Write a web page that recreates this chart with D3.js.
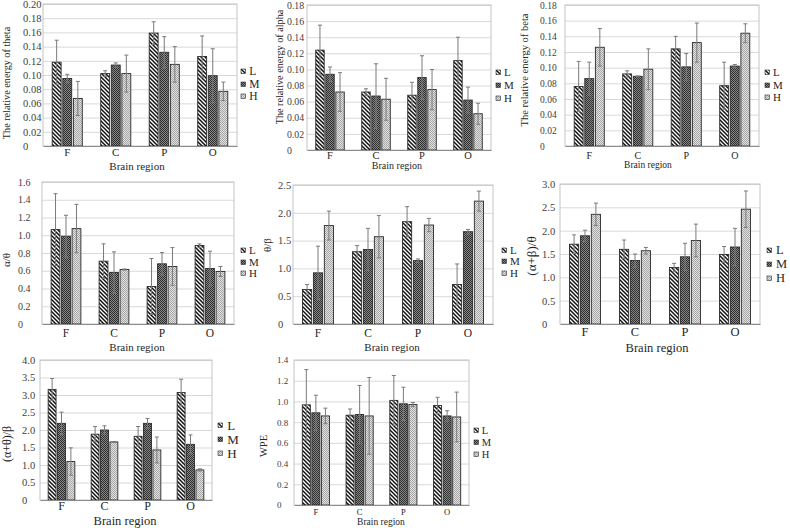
<!DOCTYPE html>
<html>
<head>
<meta charset="utf-8">
<script src="https://cdn.jsdelivr.net/npm/d3@7"></script>
<style>
  body { margin: 0; background: #fff; }
  svg { display: block; }
  text { font-family: "Liberation Serif", "Times New Roman", serif; }
</style>
</head>
<body>
<svg id="chart" width="790" height="528"></svg>
<script>
const regions = ["F", "C", "P", "O"];
const levels = ["L", "M", "H"];

// rows = L, M, H ; columns = F, C, P, O
const thetaMean = [[0.118, 0.102, 0.159, 0.126], [0.095, 0.114, 0.132, 0.099], [0.067, 0.102, 0.115, 0.077]];
const thetaErr = [[0.031, 0.004, 0.016, 0.029], [0.006, 0.003, 0.022, 0.038], [0.024, 0.026, 0.025, 0.013]];

const alphaMean = [[0.124, 0.072, 0.068, 0.111], [0.094, 0.067, 0.090, 0.062], [0.072, 0.063, 0.075, 0.045]];
const alphaErr = [[0.031, 0.004, 0.016, 0.029], [0.009, 0.040, 0.027, 0.016], [0.024, 0.026, 0.025, 0.013]];

const betaMean = [[0.076, 0.092, 0.124, 0.077], [0.086, 0.089, 0.101, 0.102], [0.126, 0.098, 0.132, 0.144]];
const betaErr = [[0.032, 0.004, 0.016, 0.030], [0.021, 0.0005, 0.017, 0.002], [0.024, 0.026, 0.025, 0.012]];

const atMean = [[1.064, 0.708, 0.423, 0.884], [0.989, 0.580, 0.678, 0.625], [1.075, 0.614, 0.648, 0.592]];
const atErr = [[0.404, 0.195, 0.315, 0.019], [0.236, 0.233, 0.127, 0.195], [0.273, 0.006, 0.213, 0.056]];

const tbMean = [[0.62, 1.30, 1.84, 0.71], [0.92, 1.34, 1.14, 1.66], [1.77, 1.57, 1.78, 2.21]];
const tbErr = [[0.09, 0.11, 0.27, 0.37], [0.48, 0.38, 0.03, 0.04], [0.26, 0.38, 0.12, 0.18]];

const abtMean = [[1.71, 1.60, 1.21, 1.49], [1.89, 1.36, 1.44, 1.65], [2.35, 1.57, 1.79, 2.46]];
const abtErr = [[0.20, 0.20, 0.09, 0.17], [0.12, 0.14, 0.29, 0.40], [0.24, 0.07, 0.35, 0.39]];

const atbMean = [[3.16, 1.88, 1.82, 3.07], [2.19, 2.00, 2.19, 1.59], [1.10, 1.66, 1.43, 0.86]];
const atbErr = [[0.31, 0.22, 0.28, 0.38], [0.32, 0.12, 0.14, 0.27], [0.39, 0.01, 0.37, 0.03]];

const wpeMean = [[0.967, 0.867, 1.010, 0.960], [0.890, 0.874, 0.977, 0.860], [0.860, 0.860, 0.970, 0.850]];
const wpeErr = [[0.34, 0.06, 0.24, 0.08], [0.17, 0.28, 0.16, 0.05], [0.075, 0.37, 0.02, 0.24]];

const ticks020 = [0, 0.02, 0.04, 0.06, 0.08, 0.10, 0.12, 0.14, 0.16, 0.18, 0.20];
const ticks018 = [0, 0.02, 0.04, 0.06, 0.08, 0.10, 0.12, 0.14, 0.16, 0.18];
const ticks16 = [0, 0.2, 0.4, 0.6, 0.8, 1.0, 1.2, 1.4, 1.6];
const ticks25 = [0, 0.5, 1.0, 1.5, 2.0, 2.5];
const ticks30 = [0, 0.5, 1.0, 1.5, 2.0, 2.5, 3.0];
const ticks40 = [0, 0.5, 1.0, 1.5, 2.0, 2.5, 3.0, 3.5, 4.0];
const ticks14 = [0, 0.2, 0.4, 0.6, 0.8, 1.0, 1.2, 1.4];

const serif = '"Liberation Serif", "Times New Roman", serif';
const svg = d3.select("#chart");

// fill patterns for the three groups
const defs = svg.append("defs");
const pL = defs.append("pattern").attr("id", "patL").attr("patternUnits", "userSpaceOnUse")
  .attr("width", 4).attr("height", 4);
pL.append("rect").attr("width", 4).attr("height", 4).attr("fill", "#fff");
pL.append("path").attr("d", "M-1,-1 L5,5 M-1,3 L1,5 M3,-1 L5,1")
  .attr("stroke", "#111").attr("stroke-width", 1.5);

const pM = defs.append("pattern").attr("id", "patM").attr("patternUnits", "userSpaceOnUse")
  .attr("width", 2).attr("height", 2);
pM.append("rect").attr("width", 2).attr("height", 2).attr("fill", "#888");
pM.append("rect").attr("width", 1).attr("height", 1).attr("fill", "#2e2e2e");
pM.append("rect").attr("x", 1).attr("y", 1).attr("width", 1).attr("height", 1).attr("fill", "#2e2e2e");

const pH = defs.append("pattern").attr("id", "patH").attr("patternUnits", "userSpaceOnUse")
  .attr("width", 2).attr("height", 2);
pH.append("rect").attr("width", 2).attr("height", 2).attr("fill", "#e2e2e2");
pH.append("rect").attr("width", 1).attr("height", 1).attr("fill", "#a6a6a6");
pH.append("rect").attr("x", 1).attr("y", 1).attr("width", 1).attr("height", 1).attr("fill", "#a6a6a6");

const fills = { L: "url(#patL)", M: "url(#patM)", H: "url(#patH)" };

const panels = [
  { mean: thetaMean, err: thetaErr, ticks: ticks020, dec: 2, l: 43, r: 237, t: 4, b: 146, labelX: 23,
    yTitle: "The relative energy of theta", ytx: 6, yty: 83, yts: 10.2, xtx: 137, xty: 166, xts: 11,
    catY: 152, catS: 11, tickS: 10.5, lgX: 243, lgY: [71, 84, 96], lgS: 11.5 },
  { mean: alphaMean, err: alphaErr, ticks: ticks018, dec: 2, l: 307, r: 491, t: 5, b: 150, labelX: 287,
    yTitle: "The relative energy of alpha", ytx: 279, yty: 67, yts: 10.2, xtx: 397, xty: 165, xts: 10,
    catY: 155, catS: 10.5, tickS: 9.8, lgX: 498, lgY: [72, 85, 98], lgS: 11 },
  { mean: betaMean, err: betaErr, ticks: ticks018, dec: 2, l: 565, r: 759, t: 5, b: 146, labelX: 540,
    yTitle: "The relative energy of beta", ytx: 524, yty: 70, yts: 10.5, xtx: 648, xty: 165, xts: 9.5,
    catY: 155, catS: 10, tickS: 9.5, lgX: 767, lgY: [72, 85, 97], lgS: 11 },
  { mean: atMean, err: atErr, ticks: ticks16, dec: 1, l: 42, r: 234, t: 182, b: 324, labelX: 18,
    yTitle: "α/θ", ytx: 6, yty: 260, yts: 11, xtx: 137, xty: 347, xts: 11,
    catY: 333, catS: 11.5, tickS: 10, lgX: 243, lgY: [250, 262, 273], lgS: 11 },
  { mean: tbMean, err: tbErr, ticks: ticks25, dec: 1, l: 293, r: 493, t: 185, b: 324, labelX: 278,
    yTitle: "θ/β", ytx: 267, yty: 245, yts: 11, xtx: 392, xty: 347, xts: 11,
    catY: 333, catS: 11.5, tickS: 10.5, lgX: 504, lgY: [250, 261, 273], lgS: 11 },
  { mean: abtMean, err: abtErr, ticks: ticks30, dec: 1, l: 560, r: 760, t: 184, b: 324, labelX: 542,
    yTitle: "(α+β)/θ", ytx: 531, yty: 256, yts: 13, xtx: 657, xty: 348, xts: 12.5,
    catY: 332, catS: 12.5, tickS: 10.5, lgX: 769, lgY: [250, 264, 278], lgS: 12.5 },
  { mean: atbMean, err: atbErr, ticks: ticks40, dec: 1, l: 40, r: 212, t: 360, b: 500, labelX: 22,
    yTitle: "(α+θ)/β", ytx: 7, yty: 444, yts: 12, xtx: 125, xty: 521, xts: 12.5,
    catY: 506, catS: 12, tickS: 10.5, lgX: 220, lgY: [425, 439, 453], lgS: 13 },
  { mean: wpeMean, err: wpeErr, ticks: ticks14, dec: 1, l: 294, r: 469, t: 360, b: 505, labelX: 277,
    yTitle: "WPE", ytx: 263, yty: 446, yts: 10.5, xtx: 381, xty: 522, xts: 9.5,
    catY: 512, catS: 8.5, tickS: 9, lgX: 476, lgY: [430, 442, 454], lgS: 10.5 }
];

function drawPanel(p) {
  const g = svg.append("g");
  const x0 = d3.scaleBand().domain(regions).range([p.l, p.r]);
  const gw = x0.bandwidth() * 0.62;
  const x1 = d3.scaleBand().domain(levels).range([0, gw]).paddingInner(0.16);
  const y = d3.scaleLinear().domain([0, p.ticks[p.ticks.length - 1]]).range([p.b, p.t]);
  const fmt = (d) => (d === 0 ? "0" : d.toFixed(p.dec));

  // gridlines
  g.append("g")
    .attr("transform", `translate(${p.l},0)`)
    .call(d3.axisLeft(y).tickValues(p.ticks.slice(1)).tickSize(-(p.r - p.l)).tickFormat(""))
    .call((a) => a.select(".domain").remove())
    .selectAll("line").attr("stroke", "#d9d9d9");

  // plot frame
  g.append("rect")
    .attr("x", p.l).attr("y", p.t)
    .attr("width", p.r - p.l).attr("height", p.b - p.t)
    .attr("fill", "none").attr("stroke", "#c4c4c4");

  // y tick labels (left aligned like the original)
  const ya = g.append("g")
    .attr("transform", `translate(${p.labelX},0)`)
    .call(d3.axisLeft(y).tickValues(p.ticks).tickSize(0).tickFormat(fmt))
    .attr("font-family", serif);
  ya.select(".domain").remove();
  ya.selectAll("text")
    .attr("x", 0).attr("text-anchor", "start")
    .style("font-family", serif)
    .style("font-size", p.tickS + "px").attr("fill", "#404040");

  // bars
  const rows = regions.flatMap((r, i) =>
    levels.map((lv, j) => ({ r, lv, v: p.mean[j][i], e: p.err[j][i] })));
  const bx = (d) => x0(d.r) + (x0.bandwidth() - gw) / 2 + x1(d.lv);

  g.selectAll(".bar")
    .data(rows)
    .enter()
    .append("rect")
    .attr("class", "bar")
    .attr("x", bx)
    .attr("y", (d) => y(d.v))
    .attr("width", x1.bandwidth())
    .attr("height", (d) => p.b - y(d.v))
    .attr("fill", (d) => fills[d.lv])
    .attr("stroke", "#2a2a2a")
    .attr("stroke-width", 0.9);

  // error bars
  const eb = g.selectAll(".err").data(rows).enter().append("g").attr("class", "err")
    .attr("stroke", "#7a7a7a").attr("stroke-width", 1);
  const cx = (d) => bx(d) + x1.bandwidth() / 2;
  eb.append("line")
    .attr("x1", cx).attr("x2", cx)
    .attr("y1", (d) => y(d.v - d.e)).attr("y2", (d) => y(d.v + d.e));
  eb.append("line")
    .attr("x1", (d) => cx(d) - 2).attr("x2", (d) => cx(d) + 2)
    .attr("y1", (d) => y(d.v + d.e)).attr("y2", (d) => y(d.v + d.e));
  eb.append("line")
    .attr("x1", (d) => cx(d) - 2).attr("x2", (d) => cx(d) + 2)
    .attr("y1", (d) => y(d.v - d.e)).attr("y2", (d) => y(d.v - d.e));

  // x axis
  const xa = g.append("g")
    .attr("transform", `translate(0,${p.b})`)
    .call(d3.axisBottom(x0).tickSize(0))
    .attr("font-family", serif);
  xa.select(".domain").attr("stroke", "#8c8c8c");
  xa.selectAll("text")
    .attr("y", p.catY - p.b).attr("dy", "0.35em")
    .style("font-family", serif)
    .style("font-size", p.catS + "px").attr("fill", "#262626");

  // axis titles
  g.append("text")
    .attr("x", p.xtx).attr("y", p.xty).attr("dy", "0.35em")
    .attr("text-anchor", "middle")
    .style("font-size", p.xts + "px").attr("fill", "#262626")
    .text("Brain region");

  g.append("text")
    .attr("transform", `translate(${p.ytx},${p.yty}) rotate(-90)`)
    .attr("dy", "0.35em")
    .attr("text-anchor", "middle")
    .style("font-size", p.yts + "px").attr("fill", "#262626")
    .text(p.yTitle);

  // legend
  const lg = g.selectAll(".lg").data(levels).enter().append("g")
    .attr("transform", (d, i) => `translate(${p.lgX},${p.lgY[i]})`);
  lg.append("rect")
    .attr("x", -2).attr("y", -2).attr("width", 4.5).attr("height", 4.5)
    .attr("fill", (d) => fills[d]).attr("stroke", "#2a2a2a").attr("stroke-width", 0.6);
  lg.append("text")
    .attr("x", p.lgS * 0.55).attr("dy", "0.35em")
    .style("font-size", p.lgS + "px").attr("fill", "#262626")
    .text((d) => d);
}

panels.forEach(drawPanel);
</script>
</body>
</html>
